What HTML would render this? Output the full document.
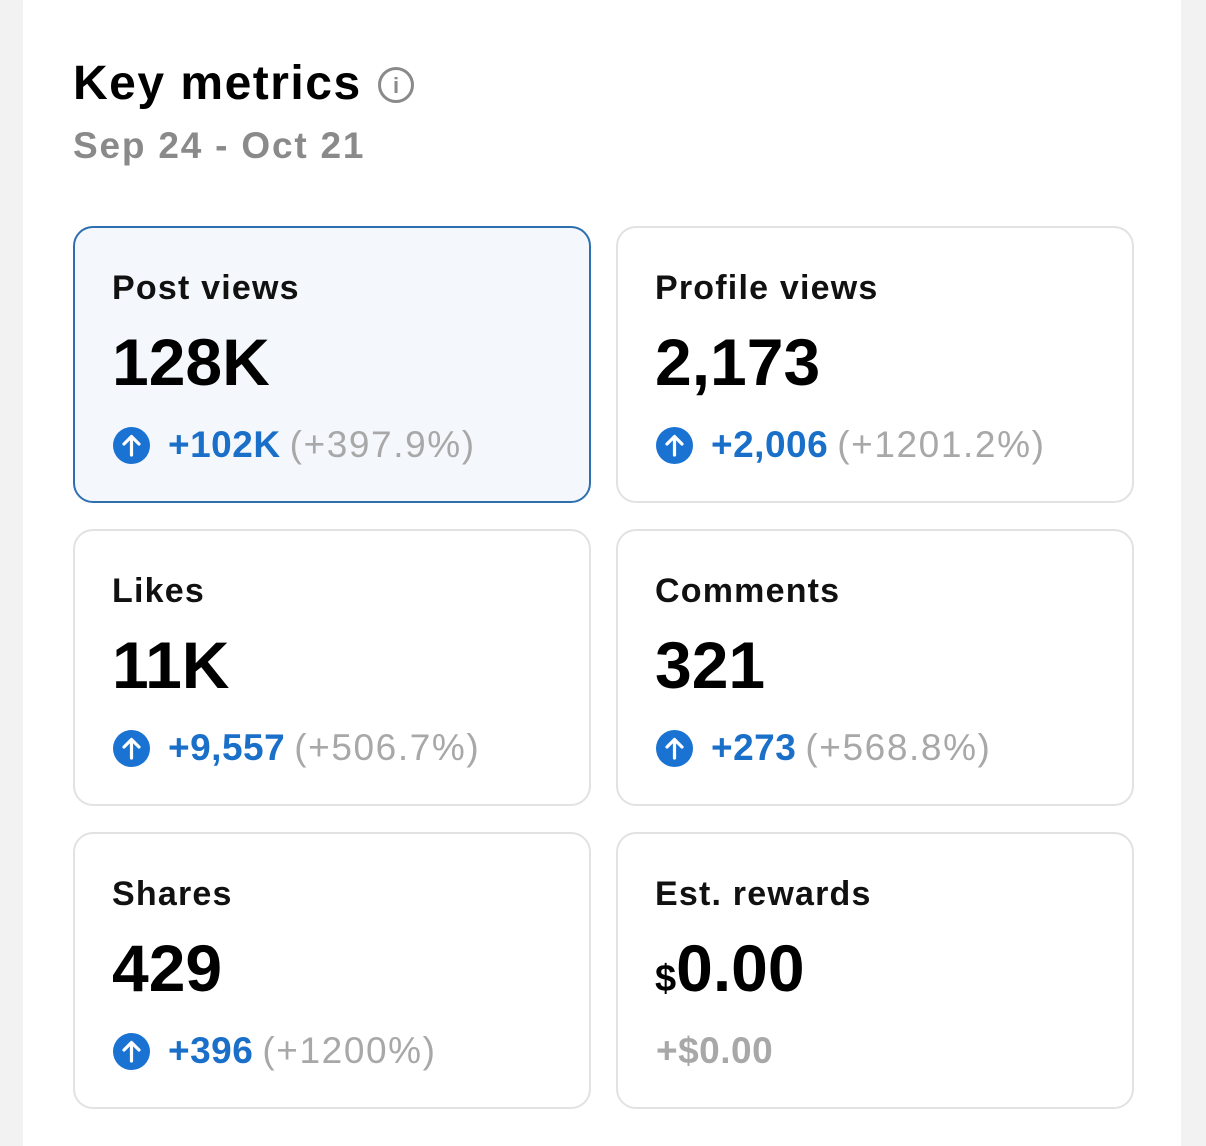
<!DOCTYPE html>
<html><head><meta charset="utf-8"><style>
html,body{margin:0;padding:0;width:1206px;height:1146px;background:#f2f2f2;overflow:hidden;font-family:"Liberation Sans",sans-serif;position:relative;}
.card{position:absolute;left:23px;top:-20px;width:1158px;height:1166px;background:#fff;border-radius:22px 22px 0 0;}
.title{position:absolute;left:73px;top:56px;font-size:48px;font-weight:bold;color:#000;letter-spacing:1.5px;}
.info{position:absolute;left:378px;top:67px;width:36px;height:36px;border:3px solid #8a8a8a;border-radius:50%;box-sizing:border-box;color:#8a8a8a;font-size:22px;font-weight:bold;text-align:center;line-height:31px;}
.date{position:absolute;left:73px;top:125px;font-size:37px;color:#8a8a8a;font-weight:bold;letter-spacing:1.8px;}
.tile{position:absolute;width:518px;height:277px;border:2px solid #e2e2e2;border-radius:20px;box-sizing:border-box;background:#fff;}
.tile.sel{border-color:#2f6fb0;background:#f4f8fc;}
.lab{position:absolute;left:37px;top:41px;font-size:34px;color:#111;font-weight:bold;letter-spacing:1.2px;}
.val{position:absolute;left:37px;top:96px;font-size:66px;font-weight:bold;color:#000;}
.chg{position:absolute;left:38px;top:196px;font-size:37px;white-space:nowrap;display:flex;align-items:center;}
.ic{width:37px;height:37px;border-radius:50%;background:#1a73d2;display:inline-block;margin-right:18px;position:relative;}
.b{color:#1a6fc9;font-weight:bold;letter-spacing:0.5px;}
.g{color:#a8a8a8;margin-left:9px;letter-spacing:1.6px;}
</style></head><body>
<div class="card"></div>
<div class="title">Key metrics</div>
<div class="info">i</div>
<div class="date">Sep 24 - Oct 21</div>

<div class="tile sel" style="left:73px;top:226px"><div class="lab">Post views</div><div class="val">128K</div>
<div class="chg"><span class="ic"><svg width="37" height="37" viewBox="0 0 37 37"><path d="M18.5 28V10M11 17l7.5-7.5L26 17" stroke="#fff" stroke-width="3.2" fill="none" stroke-linecap="round" stroke-linejoin="round"/></svg></span><span class="b">+102K</span><span class="g">(+397.9%)</span></div></div>

<div class="tile" style="left:616px;top:226px"><div class="lab">Profile views</div><div class="val">2,173</div>
<div class="chg"><span class="ic"><svg width="37" height="37" viewBox="0 0 37 37"><path d="M18.5 28V10M11 17l7.5-7.5L26 17" stroke="#fff" stroke-width="3.2" fill="none" stroke-linecap="round" stroke-linejoin="round"/></svg></span><span class="b">+2,006</span><span class="g">(+1201.2%)</span></div></div>

<div class="tile" style="left:73px;top:529px"><div class="lab">Likes</div><div class="val">11K</div>
<div class="chg"><span class="ic"><svg width="37" height="37" viewBox="0 0 37 37"><path d="M18.5 28V10M11 17l7.5-7.5L26 17" stroke="#fff" stroke-width="3.2" fill="none" stroke-linecap="round" stroke-linejoin="round"/></svg></span><span class="b">+9,557</span><span class="g">(+506.7%)</span></div></div>

<div class="tile" style="left:616px;top:529px"><div class="lab">Comments</div><div class="val">321</div>
<div class="chg"><span class="ic"><svg width="37" height="37" viewBox="0 0 37 37"><path d="M18.5 28V10M11 17l7.5-7.5L26 17" stroke="#fff" stroke-width="3.2" fill="none" stroke-linecap="round" stroke-linejoin="round"/></svg></span><span class="b">+273</span><span class="g">(+568.8%)</span></div></div>

<div class="tile" style="left:73px;top:832px"><div class="lab">Shares</div><div class="val">429</div>
<div class="chg"><span class="ic"><svg width="37" height="37" viewBox="0 0 37 37"><path d="M18.5 28V10M11 17l7.5-7.5L26 17" stroke="#fff" stroke-width="3.2" fill="none" stroke-linecap="round" stroke-linejoin="round"/></svg></span><span class="b">+396</span><span class="g">(+1200%)</span></div></div>

<div class="tile" style="left:616px;top:832px"><div class="lab">Est. rewards</div><div class="val"><span style="font-size:38px">$</span>0.00</div>
<div class="chg"><span class="g" style="margin-left:0;font-weight:bold;letter-spacing:0.5px">+$0.00</span></div></div>
</body></html>
